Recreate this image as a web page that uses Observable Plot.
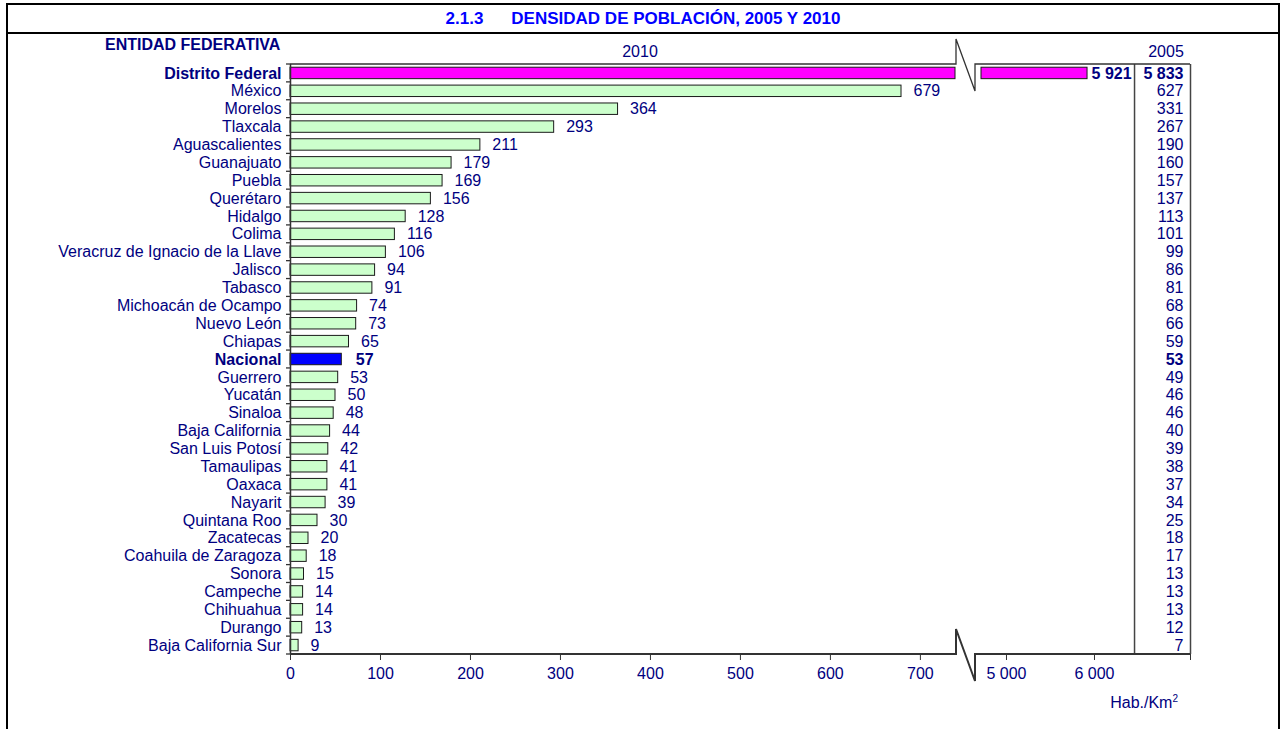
<!DOCTYPE html>
<html>
<head>
<meta charset="utf-8">
<script src="https://cdn.jsdelivr.net/npm/d3@7"></script>
<script src="https://cdn.jsdelivr.net/npm/@observablehq/plot@0.6"></script>
<style>
  html, body { margin: 0; padding: 0; background: #fff; width: 1284px; height: 729px; overflow: hidden; }
  body { position: relative; font-family: "Liberation Sans", Arial, sans-serif; }
  #chart { position: absolute; left: 0; top: 0; }
  .abs { position: absolute; white-space: nowrap; }
  #frame { position: absolute; left: 6px; top: 3px; width: 1274px; height: 760px; border: 2px solid #000; border-bottom: none; box-sizing: border-box; }
  #sep { position: absolute; left: 6px; top: 32px; width: 1274px; height: 2px; background: #000; }
  #title { position: absolute; left: 6px; top: 5px; width: 1274px; height: 27px; line-height: 27px; text-align: center; font-weight: bold; font-size: 17px; color: #0000FF; }
  .lbl { color: #000080; font-size: 16px; line-height: 18px; }
</style>
</head>
<body>
<div id="chart"></div>
<div id="frame"></div>
<div id="sep"></div>
<div id="title"><span>2.1.3</span><span style="margin-left:28px">DENSIDAD DE POBLACIÓN, 2005 Y 2010</span></div>
<div class="abs lbl" style="left:105px; top:36px; font-weight:bold;">ENTIDAD FEDERATIVA</div>
<div class="abs lbl" style="left:600px; width:80px; text-align:center; top:43px;">2010</div>
<div class="abs lbl" style="left:1126px; width:80px; text-align:center; top:43px;">2005</div>
<div class="abs lbl" style="right:106px; top:694px;">Hab./Km<sup style="font-size:10px; vertical-align:6px; line-height:0;">2</sup></div>
<script>
// ---- data ----
const names = ["Distrito Federal","México","Morelos","Tlaxcala","Aguascalientes","Guanajuato","Puebla","Querétaro","Hidalgo","Colima","Veracruz de Ignacio de la Llave","Jalisco","Tabasco","Michoacán de Ocampo","Nuevo León","Chiapas","Nacional","Guerrero","Yucatán","Sinaloa","Baja California","San Luis Potosí","Tamaulipas","Oaxaca","Nayarit","Quintana Roo","Zacatecas","Coahuila de Zaragoza","Sonora","Campeche","Chihuahua","Durango","Baja California Sur"];
const values2010 = [5921,679,364,293,211,179,169,156,128,116,106,94,91,74,73,65,57,53,50,48,44,42,41,41,39,30,20,18,15,14,14,13,9];
const values2005 = [5833,627,331,267,190,160,157,137,113,101,99,86,81,68,66,59,53,49,46,46,40,39,38,37,34,25,18,17,13,13,13,12,7];
const highlighted = {"Distrito Federal": "#FF00FF", "Nacional": "#0000FF"};
const boldNames = ["Distrito Federal", "Nacional"];
const xTicks = [0,100,200,300,400,500,600,700,5000,6000];

// ---- axis break configuration ----
const breakLow = 739, breakHigh = 4716, xMax = 7091, colLeft = 6455;
const W = 1284, H = 729, mL = 290, mR = 94, mT = 64, mB = 75;
const gapL = 955, gapR = 981;

const navy = "#000080";
const fmt = v => v >= 1000 ? d3.format(",")(v).replace(/,/g, " ") : String(v);

const rows = names.map((name, i) => ({name, v2010: values2010[i], v2005: values2005[i], bold: boldNames.includes(name)}));
const segs = rows.flatMap(d => d.v2010 > breakLow
  ? [{name: d.name, x1: 0, x2: breakLow}, {name: d.name, x1: breakHigh, x2: d.v2010}]
  : [{name: d.name, x1: 0, x2: d.v2010}]);
const fillOf = n => highlighted[n] || "#CCFFCC";
const plain = rows.filter(d => !d.bold);
const bolds = rows.filter(d => d.bold);
const broken = bolds.filter(d => d.v2010 > breakLow);
const boldUnbroken = bolds.filter(d => d.v2010 <= breakLow);

const plot = Plot.plot({
  width: W, height: H,
  marginTop: mT, marginBottom: mB, marginLeft: mL, marginRight: mR,
  style: {fontFamily: "'Liberation Sans', Arial, sans-serif", fontSize: "16px", color: navy, background: "transparent"},
  x: {type: "linear", domain: [0, breakLow, breakHigh, xMax], range: [mL, gapL, gapR, W - mR], axis: null},
  y: {type: "band", domain: names, paddingInner: 0.36, paddingOuter: 0.18, round: false, axis: null},
  marks: [
    Plot.barX(segs, {y: "name", x1: "x1", x2: "x2", fill: d => fillOf(d.name), stroke: "#1a1a1a", strokeWidth: 1}),
    Plot.ruleX([0], {stroke: "#333", strokeWidth: 1.5}),
    Plot.ruleX([colLeft, xMax], {stroke: "#444", strokeWidth: 1.5}),
    // category labels
    Plot.text(plain, {y: "name", text: "name", frameAnchor: "left", dx: -9, textAnchor: "end", fontSize: 16, fill: navy}),
    Plot.text(bolds, {y: "name", text: "name", frameAnchor: "left", dx: -9, textAnchor: "end", fontSize: 16, fill: navy, fontWeight: "bold"}),
    // 2010 value labels
    Plot.text(plain, {y: "name", x: "v2010", text: d => fmt(d.v2010), dx: 12, textAnchor: "start", fontSize: 16, fill: navy}),
    Plot.text(boldUnbroken, {y: "name", x: "v2010", text: d => fmt(d.v2010), dx: 14, textAnchor: "start", fontSize: 16, fill: navy, fontWeight: "bold"}),
    Plot.text(broken, {y: "name", x: "v2010", text: d => fmt(d.v2010), dx: 4, textAnchor: "start", fontSize: 16, fill: navy, fontWeight: "bold"}),
    // 2005 column
    Plot.text(plain, {y: "name", text: d => fmt(d.v2005), frameAnchor: "right", dx: -7, textAnchor: "end", fontSize: 16, fill: navy}),
    Plot.text(bolds, {y: "name", text: d => fmt(d.v2005), frameAnchor: "right", dx: -7, textAnchor: "end", fontSize: 16, fill: navy, fontWeight: "bold"}),
    // x axis
    Plot.axisX({ticks: [...xTicks, xMax], tickFormat: d => d === xMax ? "" : fmt(d), tickSize: 6, tickPadding: 7, fontSize: 16, stroke: "#333", fill: navy, label: null})
  ]
});
document.getElementById("chart").appendChild(plot);

// ---- decorations: plot-area border lines with axis-break zigzags, y ticks ----
const xs = plot.scale("x"), ys = plot.scale("y");
const X = v => xs.apply(v);
const [y0, y1] = ys.range;
const svg = d3.select(plot);
const g = svg.append("g").attr("fill", "none").attr("stroke", "#333");
[[y0, 1.3], [y1, 2]].forEach(([yy, w]) => {
  const p = d3.path();
  p.moveTo(X(0), yy); p.lineTo(X(breakLow) + 1, yy);
  p.lineTo(X(breakLow) + 1, yy - 25);
  p.lineTo(X(breakHigh) - 6, yy + 27);
  p.lineTo(X(breakHigh) - 6, yy);
  p.lineTo(X(xMax), yy);
  g.append("path").attr("d", p.toString()).attr("stroke-width", w).attr("stroke-linejoin", "miter");
});
const n = names.length, step = (y1 - y0) / n;
for (let i = 0; i <= n; i++) {
  g.append("line").attr("x1", X(0) - 4).attr("x2", X(0)).attr("y1", y0 + i * step).attr("y2", y0 + i * step).attr("stroke-width", 1.3);
}
</script>
</body>
</html>
